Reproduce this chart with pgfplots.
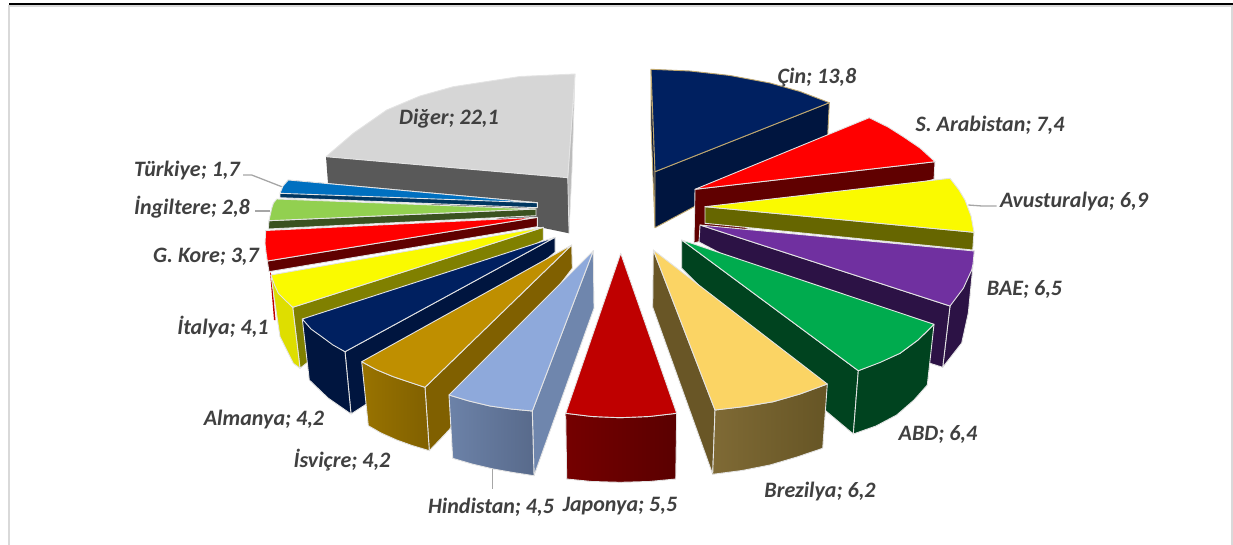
\documentclass[border=0pt]{standalone}
\usepackage{fontspec}
\setmainfont{Carlito}
\usepackage{pgfplots}
\pgfplotsset{compat=1.18}
\definecolor{edge}{HTML}{E4E4E4}
\definecolor{tan}{HTML}{BFA76F}
\definecolor{lab}{HTML}{404040}
\definecolor{lead}{HTML}{A6A6A6}
\definecolor{frame}{HTML}{D9D9D9}
\newcommand{\hx}[1]{\definecolor{c#1}{HTML}{#1}}
\hx{595959}\hx{BBBBBB}\hx{D6D6D6}\hx{000F36}\hx{00153F}\hx{002060}\hx{600000}\hx{FF0000}
\hx{666600}\hx{FAFA00}\hx{2C1245}\hx{7030A0}\hx{00431F}\hx{00AB4E}\hx{695626}\hx{7F6A35}\hx{665525}
\hx{FBD464}\hx{003660}\hx{0070C0}\hx{3A5220}\hx{92D050}\hx{C00000}\hx{808000}\hx{DEDE00}
\hx{806000}\hx{997300}\hx{BF8F00}\hx{6F86AD}\hx{6C82A8}\hx{586A8B}\hx{8EA9DB}\hx{750000}\hx{5A0000}\hx{BF0000}
\pgfplotsset{
  w/.style={draw=edge,line width=0.9pt,line join=round,fill=c#1,no marks},
  g/.style 2 args={draw=edge,line width=0.9pt,line join=round,shade,left color=c#1,right color=c#2,no marks},
  t/.style={draw=tan,line width=0.9pt,line join=round,fill=c#1,no marks},
  e/.style={draw=none,fill=c#1,no marks},
  l/.style={draw=lead,line width=1.3pt,no marks},
}
\newcommand{\lbl}[3]{\node[text=lab,font=\fontsize{22}{23}\selectfont\bfseries\itshape,inner sep=0pt] at (axis cs:#1,#2+1.8) {#3};}
\begin{document}
\begin{tikzpicture}
\begin{axis}[scale only axis,width=1233pt,height=545pt,xmin=0,xmax=1233,ymin=0,ymax=545,y dir=reverse,axis lines=none,clip=false]
% frame
\addplot[draw=frame,line width=2pt,no marks] coordinates {(9,545)(9,6.5)(1232,6.5)(1232,545)};
\addplot[draw=black,line width=1.6pt,no marks] coordinates {(9,4.2)(1233,4.2)};
% Diğer
\addplot[e={595959}] coordinates {(326,156.7)(567.7,177.7)(569,233.3)(328,183)} --cycle;
\addplot[draw=edge,line width=0.7pt,fill=cBBBBBB,no marks] coordinates {(575,74)(567.7,177.7)(569,233)(572,170)} --cycle;
\addplot[w={D6D6D6}] coordinates {(575,74)(520,76.5)(453.3,86.7)(420,96)(386.7,110)(353.3,133.3)(326,156.7)(567.7,177.7)} --cycle;
% Çin
\addplot[t={000F36}] coordinates {(651,69.3)(655,171.7)(655,227.7)(651,125)} --cycle;
\addplot[t={00153F}] coordinates {(655,171.7)(829.3,102.7)(827.7,135)(655,227.7)} --cycle;
\addplot[t={002060}] coordinates {(651,69.3)(690,71)(730,75.5)(770,83)(800,91.5)(829.3,102.7)(655,171.7)} --cycle;
% S. Arabistan
\addplot[w={600000}] coordinates {(695,189.3)(935,161.7)(934,179.3)(694,243)} --cycle;
\addplot[w={FF0000}] coordinates {(695,189.3)(869.3,117.7)(888,127)(903.3,136.7)(920,148)(935,161.7)} --cycle;
% Avusturalya
\addplot[w={666600}] coordinates {(705,206.7)(974,232.3)(972.7,250)(705,223.3)} --cycle;
\addplot[w={FAFA00}] coordinates {(705,206.7)(950,178.3)(959,190)(965,200)(971,216)(974,232.3)} --cycle;
% BAE
\addplot[w={2C1245}] coordinates {(974,250.7)(972.7,268.3)(968.3,313)(961.7,343)(942.7,367.3)(950,306)} --cycle;
\addplot[w={2C1245}] coordinates {(700,225)(950,306)(942.7,367.3)(930,363.3)(699,242)} --cycle;
\addplot[w={7030A0}] coordinates {(700,225)(974.3,251)(973,264)(971.7,270)(963.3,288.3)(950,306)} --cycle;
% ABD
\addplot[w={00431F}] coordinates {(681.7,240)(858.3,370.7)(853.3,434)(826.7,411.7)(681.7,268.3)} --cycle;
\addplot[w={00431F}] coordinates {(934,324.3)(927.3,385)(914,400)(896.7,415)(876,426)(853.3,434)(858.3,370.7)(880,362)(900,353.3)(918,340)} --cycle;
\addplot[w={00AB4E}] coordinates {(681.7,240)(934,324.3)(918,340)(900,353.3)(880,362.5)(858.3,370.7)} --cycle;
% Brezilya
\addplot[w={695626}] coordinates {(653.3,250)(715,410)(712.7,474.3)(652.7,307.3)} --cycle;
\addplot[g={7F6A35}{665525}] coordinates {(715,410)(745,406.5)(773.3,401.7)(800,394)(827.3,384)(822.7,448.3)(797,457)(770,465)(742,470.5)(712.7,474.3)} --cycle;
\addplot[w={FBD464}] coordinates {(653.3,250)(827.3,384)(800,394)(773.3,401.7)(745,406.5)(715,410)} --cycle;
% Türkiye
\addplot[w={003660}] coordinates {(288,180)(537.3,202.7)(537.3,207.7)(280,197.7)(280,193.3)} --cycle;
\addplot[w={0070C0}] coordinates {(537.3,202.7)(288.3,180)(283,186)(280,193.3)} --cycle;
% İngiltere
\addplot[w={3A5220}] coordinates {(536,209)(269,220.7)(268.3,229)(536,215.7)} --cycle;
\addplot[w={92D050}] coordinates {(536,209)(276.7,199)(273.5,203)(271.7,208.3)(269,220.7)} --cycle;
% G. Kore
\addplot[draw=none,fill=cC00000,no marks] coordinates {(270,272)(274,320)(275.5,320)(271.5,275)} --cycle;
\addplot[w={600000}] coordinates {(537.3,217.3)(267.3,261)(269,271.7)(537.3,226.7)} --cycle;
\addplot[w={FF0000}] coordinates {(537.3,217.3)(265.7,230.5)(265,243.3)(266,252)(267.3,261)} --cycle;
% İtalya
\addplot[w={808000}] coordinates {(543.3,227.3)(292.7,307.3)(300,368.3)(306.7,363)(543.3,240)} --cycle;
\addplot[w={DEDE00}] coordinates {(271,275)(274,296.7)(280,336.7)(293.3,363.3)(300,368.3)(292.7,307.3)(284,297)(278.3,287)} --cycle;
\addplot[w={FAFA00}] coordinates {(543.3,227.3)(271,275)(274.5,285)(278.3,293.3)(285,300)(292.7,307.3)} --cycle;
% Almanya
\addplot[w={00153F}] coordinates {(555,237.3)(345,351.7)(351,414)(365,405)(555,252.3)} --cycle;
\addplot[w={00153F}] coordinates {(302.3,319)(309.3,380)(328,398)(351,414)(345,351.7)(322,336.7)} --cycle;
\addplot[w={002060}] coordinates {(555,237.3)(302.3,319)(311,329)(321.7,336.7)(333,345)(345,351.7)} --cycle;
% İsviçre
\addplot[w={806000}] coordinates {(571.7,245)(425,387.3)(429.3,450.7)(449,430)(572.3,268.3)} --cycle;
\addplot[g={997300}{806000}] coordinates {(361.7,361.7)(376,369.5)(393.3,376.7)(409,382)(425,387.3)(429.3,450.7)(412,445.5)(396.7,440)(381,433)(368.3,425.7)} --cycle;
\addplot[w={BF8F00}] coordinates {(571.7,245)(361.7,361.7)(376,369.5)(393.3,376.7)(409,382)(425,387.3)} --cycle;
% Hindistan
\addplot[w={6F86AD}] coordinates {(593.3,250.7)(532.3,411)(534,475.7)(594,308.3)} --cycle;
\addplot[g={6C82A8}{586A8B}] coordinates {(449,395)(469,401)(490,406)(511,409)(532.3,411)(534,475.7)(513,472.5)(493.3,469)(472,464)(452.7,458.3)} --cycle;
\addplot[w={8EA9DB}] coordinates {(593.3,250.7)(449,395)(469,401)(490,406)(511,409)(532.3,411)} --cycle;
% Japonya
\addplot[g={750000}{5A0000}] coordinates {(565.7,413.3)(592,416.5)(620,417.7)(649,416.5)(676.7,413.3)(675.7,479)(649,481.5)(620,482.3)(592,481.5)(566.7,479)} --cycle;
\addplot[w={BF0000}] coordinates {(620.7,253.3)(565.7,413.3)(592,416.5)(620,417.7)(649,416.5)(676.7,413.3)} --cycle;
% leader lines
\addplot[l] coordinates {(968.3,205)(982,206)(996.7,206)};
\addplot[l] coordinates {(492.3,469)(492.3,489)};
\addplot[l] coordinates {(243,175)(251.7,175)(281.7,186.7)};
\addplot[l] coordinates {(255,211)(270,211)};
% labels
\lbl{817}{76}{Çin; 13,8}
\lbl{990}{123}{S. Arabistan; 7,4}
\lbl{1074}{200}{Avusturalya; 6,9}
\lbl{1024.5}{288}{BAE; 6,5}
\lbl{938}{433}{ABD; 6,4}
\lbl{820}{490}{Brezilya; 6,2}
\lbl{620}{504}{Japonya; 5,5}
\lbl{491}{505}{Hindistan; 4,5}
\lbl{342}{458}{İsviçre; 4,2}
\lbl{264}{418}{Almanya; 4,2}
\lbl{223}{325}{İtalya; 4,1}
\lbl{206}{255}{G. Kore; 3,7}
\lbl{192}{205}{İngiltere; 2,8}
\lbl{187}{169}{Türkiye; 1,7}
\lbl{449}{117}{Diğer; 22,1}
\end{axis}
\pgfresetboundingbox
\path[use as bounding box] (current axis.south west) rectangle (current axis.north east);
\end{tikzpicture}
\end{document}
